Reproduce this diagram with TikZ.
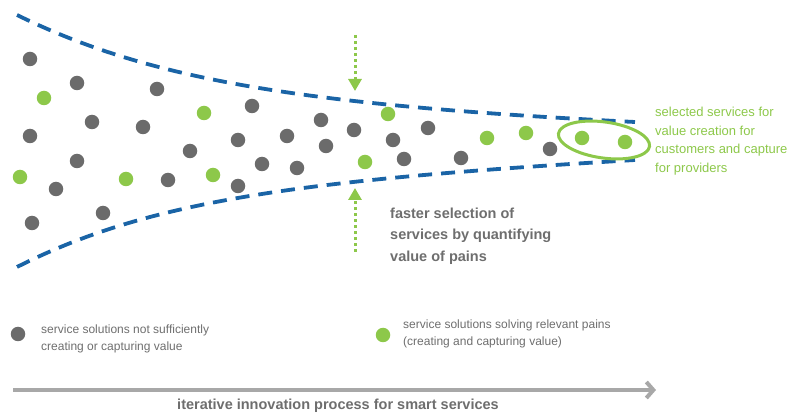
\documentclass[tikz,border=0pt]{standalone}
\usepackage{fontspec}
\setmainfont{Liberation Sans}
\usepackage{xcolor}
\usetikzlibrary{shapes.geometric, arrows.meta, positioning}

\definecolor{dotgray}{HTML}{6B6B6B}
\definecolor{dotgreen}{HTML}{8DC84A}
\definecolor{funnelblue}{HTML}{1A64A6}
\definecolor{textgray}{HTML}{6E6E6E}
\definecolor{arrowgray}{HTML}{A8A8A8}

\begin{document}
\begin{tikzpicture}[x=1pt, y=-1pt,
    graydot/.style={circle, fill=dotgray, inner sep=0pt, minimum size=14.5pt},
    greendot/.style={circle, fill=dotgreen, inner sep=0pt, minimum size=14.5pt},
    funnel/.style={draw=funnelblue, line width=3.8pt, dash pattern=on 14pt off 9pt},
    pointer/.style={draw=dotgreen, line width=3pt, dash pattern=on 3pt off 3pt, -{Triangle[length=12pt, width=13pt]}},
    legend/.style={align=left, inner sep=0pt, text=textgray, font=\fontsize{12}{16.5}\selectfont}]
    \useasboundingbox (0,0) rectangle (788,414);

    \draw [funnel] (17,15) .. controls (150,80) and (300,105) .. (635,122);
    \draw [funnel] (17,267) .. controls (150,200) and (300,180) .. (635,160);

    \foreach \x/\y [count=\i] in {30/59, 77/83, 157/89, 92/122, 143/127, 30/136, 77/161, 56/189, 168/180,
        32/223, 103/213, 252/106, 190/151, 238/140, 262/164, 238/186, 287/136, 297/168, 321/120,
        326/146, 354/130, 393/140, 428/128, 404/159, 461/158, 550/149}
        \node [graydot] (gray\i) at (\x,\y) {};
    \foreach \x/\y [count=\i] in {44/98, 204/113, 20/177, 126/179, 213/175, 365/162, 388/114,
        487/138, 526/133, 582/138, 625/142}
        \node [greendot] (green\i) at (\x,\y) {};

    \node [draw=dotgreen, line width=3pt, ellipse, minimum width=92pt, minimum height=36pt, rotate=-8] (selected) at (604,140) {};
    \node [anchor=west, align=left, inner sep=0pt, text=dotgreen, font=\fontsize{13}{18.5}\selectfont] (seltext) at (655,141)
        {selected services for\\value creation for\\customers and capture\\for providers};

    \coordinate (toptail) at (355,35);
    \coordinate (tophead) at (355,91);
    \coordinate (bottail) at (355,252);
    \coordinate (bothead) at (355,188);
    \draw [pointer] (toptail) -- (tophead);
    \draw [pointer] (bottail) -- (bothead);

    \node [anchor=west, align=left, inner sep=0pt, text=textgray, font=\bfseries\fontsize{14.5}{21.5}\selectfont] (faster) at (390,236)
        {faster selection of\\services by quantifying\\value of pains};

    \node [graydot] (keygray) at (18,334) {};
    \node [legend, anchor=west] (keygraytext) at (41,339) {service solutions not sufficiently\\creating or capturing value};
    \node [greendot] (keygreen) at (383,335) {};
    \node [legend, anchor=west] (keygreentext) at (403,334) {service solutions solving relevant pains\\(creating and capturing value)};

    \coordinate (timestart) at (13,390);
    \coordinate (timeend) at (656,390);
    \draw [draw=arrowgray, line width=4pt, -{Straight Barb[length=7pt, width=16pt]}] (timestart) -- (timeend);
    \node [text=textgray, inner sep=0pt, font=\bfseries\fontsize{14.5}{17}\selectfont] (process) at (338,406)
        {iterative innovation process for smart services};
\end{tikzpicture}
\end{document}
